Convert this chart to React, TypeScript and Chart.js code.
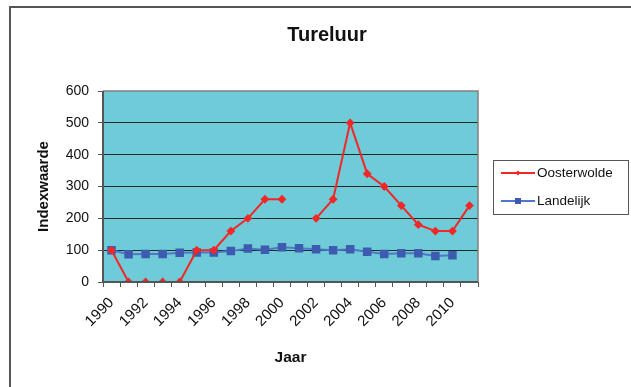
import React, { useEffect, useRef } from "react";
import { Chart, registerables } from "chart.js";

Chart.register(...registerables);

const years = [
  "1990", "1991", "1992", "1993", "1994", "1995", "1996", "1997", "1998", "1999", "2000",
  "2001", "2002", "2003", "2004", "2005", "2006", "2007", "2008", "2009", "2010", "2011",
];
const oosterwolde: (number | null)[] = [
  100, 0, 0, 0, 0, 100, 100, 160, 200, 260, 260, null, 200, 260, 500, 340, 300, 240, 180, 160, 160, 240,
];
const landelijk: (number | null)[] = [
  100, 87, 88, 88, 92, 93, 93, 97, 105, 101, 109, 106, 103, 100, 103, 95, 88, 90, 90, 82, 84, null,
];
const yTicks = [0, 100, 200, 300, 400, 500, 600];

const FONT = "'Liberation Sans', Arial, sans-serif";

const plotBg = {
  id: "plotBg",
  beforeDraw(chart: any) {
    const { ctx, chartArea: a } = chart;
    ctx.save();
    ctx.fillStyle = "#6ECBD7";
    ctx.fillRect(a.left, a.top, a.right - a.left, a.bottom - a.top);
    ctx.restore();
  },
  afterDatasetsDraw(chart: any) {
    const { ctx, chartArea: a } = chart;
    ctx.save();
    ctx.strokeStyle = "#808080";
    ctx.lineWidth = 1.5;
    ctx.beginPath();
    ctx.moveTo(a.left, a.top);
    ctx.lineTo(a.right, a.top);
    ctx.lineTo(a.right, a.bottom);
    ctx.stroke();
    ctx.strokeStyle = "#555";
    ctx.lineWidth = 2;
    ctx.beginPath();
    ctx.moveTo(a.left, a.top);
    ctx.lineTo(a.left, a.bottom);
    ctx.lineTo(a.right, a.bottom);
    ctx.stroke();
    ctx.restore();
  },
};

const excelLegend = {
  id: "excelLegend",
  afterDraw(chart: any) {
    const { ctx } = chart;
    const bx = 493.5, by = 160.5, bw = 135, bh = 54;
    ctx.save();
    ctx.strokeStyle = "#555";
    ctx.lineWidth = 1;
    ctx.strokeRect(bx, by, bw, bh);
    chart.data.datasets.forEach((ds: any, i: number) => {
      const y = 173 + i * 28;
      ctx.strokeStyle = ds.borderColor;
      ctx.lineWidth = 2;
      ctx.beginPath();
      ctx.moveTo(501, y);
      ctx.lineTo(535, y);
      ctx.stroke();
      ctx.fillStyle = ds.pointBackgroundColor;
      const cx = 518;
      if (ds.pointStyle === "rectRot") {
        const r = 2.5;
        ctx.beginPath();
        ctx.moveTo(cx, y - r);
        ctx.lineTo(cx + r, y);
        ctx.lineTo(cx, y + r);
        ctx.lineTo(cx - r, y);
        ctx.closePath();
        ctx.fill();
      } else {
        ctx.fillRect(cx - 3, y - 3, 6, 6);
      }
      ctx.fillStyle = "#111";
      ctx.font = `13.5px ${FONT}`;
      ctx.textBaseline = "middle";
      ctx.textAlign = "left";
      ctx.fillText(ds.label, 537, y);
    });
    ctx.restore();
  },
};

export default function App() {
  const ref = useRef<HTMLCanvasElement | null>(null);
  useEffect(() => {
    if (!ref.current) return;
    const chart = new Chart(ref.current, {
      type: "line",
      data: {
        labels: years,
        datasets: [
          {
            label: "Oosterwolde",
            data: oosterwolde,
            borderColor: "#F02828",
            backgroundColor: "#F02828",
            pointBackgroundColor: "#F02828",
            pointBorderColor: "#F02828",
            pointStyle: "rectRot",
            pointRadius: 3,
            borderWidth: 2,
            spanGaps: false,
            tension: 0,
          },
          {
            label: "Landelijk",
            data: landelijk,
            borderColor: "#4F78C8",
            backgroundColor: "#3D5CAF",
            pointBackgroundColor: "#3D5CAF",
            pointBorderColor: "#3D5CAF",
            pointStyle: "rect",
            pointRadius: 4.6,
            borderWidth: 2,
            spanGaps: false,
            tension: 0,
          },
        ],
      },
      options: {
        animation: false,
        responsive: false,
        layout: { padding: { left: 23, right: 0, top: 0, bottom: 0 } },
        plugins: {
          legend: { display: false },
          tooltip: { enabled: false },
          title: {
            display: true,
            text: "Tureluur",
            color: "#111",
            font: { family: FONT, size: 20, weight: "bold" },
            padding: { top: 23, bottom: 44 },
          },
        },
        scales: {
          x: {
            type: "category",
            offset: true,
            grid: {
              display: true,
              offset: true,
              drawOnChartArea: false,
              drawTicks: true,
              tickLength: 5,
              color: "#555",
            },
            border: { display: false },
            ticks: {
              autoSkip: false,
              maxRotation: 45,
              minRotation: 45,
              padding: 7,
              color: "#111",
              font: { family: FONT, size: 15 },
              callback: (_v: any, i: number) => (i % 2 === 0 ? years[i] : ""),
            },
            title: {
              display: true,
              text: "Jaar",
              color: "#111",
              font: { family: FONT, size: 15.5, weight: "bold" },
              padding: { top: 0, bottom: 20 },
            },
            afterFit: (s: any) => {
              s.height = 105;
            },
          },
          y: {
            min: 0,
            max: 600,
            afterBuildTicks: (s: any) => {
              s.ticks = yTicks.map((v) => ({ value: v }));
            },
            grid: {
              drawTicks: true,
              tickLength: 5,
              tickColor: "#555",
              color: (c: any) =>
                c.tick && (c.tick.value === 0 || c.tick.value === 600) ? "rgba(0,0,0,0)" : "#1E2A2C",
              lineWidth: 1,
            },
            border: { display: false },
            ticks: {
              padding: 9,
              color: "#111",
              font: { family: FONT, size: 14 },
            },
            title: {
              display: true,
              text: "Indexwaarde",
              color: "#111",
              font: { family: FONT, size: 15, weight: "bold" },
              padding: { top: 12, bottom: 0 },
            },
            afterFit: (s: any) => {
              s.width = 80;
            },
          },
          yR: {
            type: "linear",
            position: "right",
            display: true,
            grid: { display: false },
            border: { display: false },
            ticks: { display: false },
            afterFit: (s: any) => {
              s.width = 153;
            },
          },
        },
      } as any,
      plugins: [plotBg, excelLegend],
    });
    return () => chart.destroy();
  }, []);

  return (
    <div style={{ position: "fixed", left: 0, top: 0, width: 631, height: 387, background: "#fff" }}>
      <div
        style={{
          position: "absolute",
          left: 9,
          top: 6,
          width: 700,
          height: 500,
          borderTop: "2px solid #555",
          borderLeft: "2px solid #555",
        }}
      />
      <canvas ref={ref} width={631} height={387} style={{ position: "absolute", left: 0, top: 0 }} />
    </div>
  );
}
